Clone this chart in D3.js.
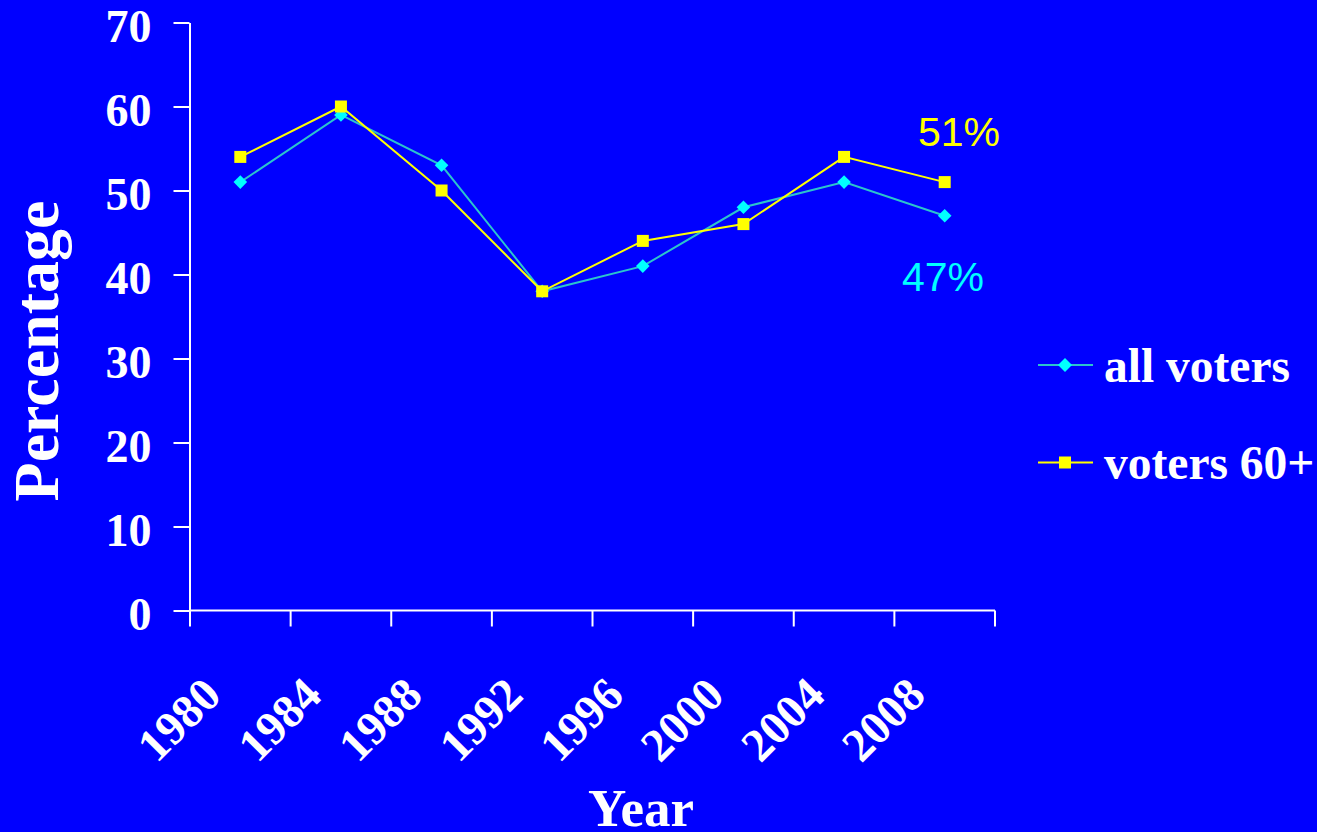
<!DOCTYPE html>
<html>
<head>
<meta charset="utf-8">
<script src="https://cdn.jsdelivr.net/npm/d3@7"></script>
<style>
  html, body { margin: 0; padding: 0; background: #0000FF; }
  svg { display: block; }
</style>
</head>
<body>
<svg id="chart" width="1317" height="832"></svg>
<script>
// Election years and share of the vote (%) for each group
const years = ["1980", "1984", "1988", "1992", "1996", "2000", "2004", "2008"];
const allVoters = [51, 59, 53, 38, 41, 48, 51, 47];
const voters60 = [54, 60, 50, 38, 44, 46, 54, 51];
const yTicks = [0, 10, 20, 30, 40, 50, 60, 70];
const seriesNames = ["all voters", "voters 60+"];
const endLabels = ["47%", "51%"];

const svg = d3.select("#chart");
const serif = "'Liberation Serif', 'Times New Roman', serif";
const sans = "'Liberation Sans', Arial, sans-serif";

const x = d3.scaleBand().domain(years).range([190, 995]).padding(0);
const y = d3.scaleLinear().domain([0, 70]).range([610.5, 22.5]);
const cx = d => x(d) + x.bandwidth() / 2;

// Y axis
const yAxis = svg.append("g")
  .attr("transform", "translate(189.5,0)")
  .call(d3.axisLeft(y).tickValues(yTicks).tickSize(16).tickSizeOuter(0).tickPadding(22));
yAxis.select(".domain").attr("stroke", "#fff").attr("stroke-width", 2);
yAxis.selectAll(".tick line").attr("stroke", "#fff").attr("stroke-width", 2);
yAxis.selectAll(".tick text")
  .attr("fill", "#fff")
  .attr("font-family", serif)
  .attr("font-weight", "bold")
  .attr("font-size", 46)
  .attr("dy", 0)
  .attr("y", 18.5);

// X axis: line plus ticks on the band boundaries
const xg = svg.append("g");
xg.append("line")
  .attr("x1", x.range()[0]).attr("x2", x.range()[1])
  .attr("y1", y(0)).attr("y2", y(0))
  .attr("stroke", "#fff").attr("stroke-width", 2);
const bounds = years.map(d => x(d)).concat([x.range()[1]]);
xg.selectAll("line.tk").data(bounds).join("line")
  .attr("class", "tk")
  .attr("x1", d => d).attr("x2", d => d)
  .attr("y1", y(0)).attr("y2", y(0) + 16)
  .attr("stroke", "#fff").attr("stroke-width", 2);
xg.selectAll("text.yr").data(years).join("text")
  .attr("class", "yr")
  .attr("transform", d => `translate(${cx(d) - 17},${y(0) + 87}) rotate(-45)`)
  .attr("text-anchor", "end")
  .attr("fill", "#fff")
  .attr("font-family", serif)
  .attr("font-weight", "bold")
  .attr("font-size", 47)
  .text(d => d);

// Axis titles
svg.append("text")
  .attr("transform", "translate(58,351) rotate(-90)")
  .attr("text-anchor", "middle")
  .attr("fill", "#fff")
  .attr("font-family", serif)
  .attr("font-weight", "bold")
  .attr("font-size", 64)
  .text("Percentage");
svg.append("text")
  .attr("x", 641).attr("y", 826)
  .attr("text-anchor", "middle")
  .attr("fill", "#fff")
  .attr("font-family", serif)
  .attr("font-weight", "bold")
  .attr("font-size", 53)
  .text("Year");

// Series
const line = d3.line().x((d, i) => cx(years[i])).y(d => y(d));
const cyanLine = "#2CC4CC", cyanMark = "#00FFFF", yellow = "#FFFF00";

svg.append("path").datum(allVoters)
  .attr("d", line).attr("fill", "none")
  .attr("stroke", cyanLine).attr("stroke-width", 2);
svg.append("path").datum(voters60)
  .attr("d", line).attr("fill", "none")
  .attr("stroke", yellow).attr("stroke-width", 2);

const diamond = d3.symbol().type(d3.symbolDiamond2).size(118);
svg.selectAll("path.dia").data(allVoters).join("path")
  .attr("class", "dia")
  .attr("d", diamond)
  .attr("transform", (d, i) => `translate(${cx(years[i])},${y(d)})`)
  .attr("fill", cyanMark);

const sq = 12;
svg.selectAll("rect.sq").data(voters60).join("rect")
  .attr("class", "sq")
  .attr("x", (d, i) => cx(years[i]) - sq / 2)
  .attr("y", d => y(d) - sq / 2)
  .attr("width", sq).attr("height", sq)
  .attr("fill", yellow);

// End-point value labels
svg.append("text")
  .attr("x", 902).attr("y", 290.5)
  .attr("fill", cyanMark)
  .attr("font-family", sans)
  .attr("font-size", 41)
  .text(endLabels[0]);
svg.append("text")
  .attr("x", 918).attr("y", 146)
  .attr("fill", yellow)
  .attr("font-family", sans)
  .attr("font-size", 41)
  .text(endLabels[1]);

// Legend
const legend = svg.append("g");
const legendRows = [
  { name: seriesNames[0], y: 365, stroke: cyanLine, fill: cyanMark, shape: "diamond" },
  { name: seriesNames[1], y: 462.5, stroke: yellow, fill: yellow, shape: "square" }
];
legendRows.forEach(r => {
  legend.append("line")
    .attr("x1", 1038).attr("x2", 1093)
    .attr("y1", r.y).attr("y2", r.y)
    .attr("stroke", r.stroke).attr("stroke-width", 2);
  if (r.shape === "diamond") {
    legend.append("path")
      .attr("d", d3.symbol().type(d3.symbolDiamond2).size(125))
      .attr("transform", `translate(1065,${r.y})`)
      .attr("fill", r.fill);
  } else {
    legend.append("rect")
      .attr("x", 1065 - 6).attr("y", r.y - 6)
      .attr("width", 12).attr("height", 12)
      .attr("fill", r.fill);
  }
  legend.append("text")
    .attr("x", 1104).attr("y", r.y + 16.5)
    .attr("fill", "#fff")
    .attr("font-family", serif)
    .attr("font-weight", "bold")
    .attr("font-size", 47.5)
    .text(r.name);
});
</script>
</body>
</html>
